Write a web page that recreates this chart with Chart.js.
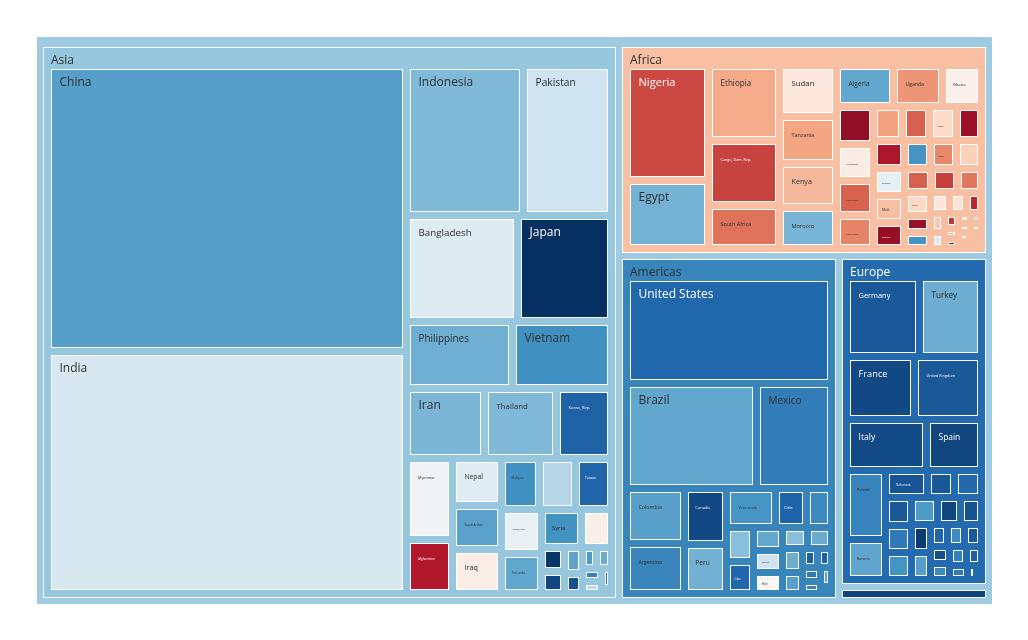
<!DOCTYPE html>
<html>
<head>
<meta charset="utf-8">
<title>Population treemap</title>
<script src="https://cdn.jsdelivr.net/npm/chart.js@4.4.1/dist/chart.umd.min.js"></script>
<style>
  html, body { margin: 0; padding: 0; background: #fff; }
  #wrap { width: 1028px; height: 640px; }
</style>
</head>
<body>
<div id="wrap"><canvas id="treemapChart"></canvas></div>
<script>
// Gapminder 2007 - population (millions) and life expectancy per country
const continents = ["Asia", "Africa", "Americas", "Europe", "Oceania"];

const asiaCountries = ["China", "India", "Indonesia", "Pakistan", "Bangladesh", "Japan", "Philippines", "Vietnam", "Iran", "Thailand", "Korea, Rep.", "Myanmar", "Afghanistan", "Nepal", "Saudi Arabia", "Iraq", "Malaysia", "Korea, Dem. Rep.", "Taiwan", "Yemen, Rep.", "Sri Lanka", "Syria", "Cambodia", "Hong Kong, China", "Israel", "Jordan", "Singapore", "West Bank and Gaza", "Lebanon", "Oman", "Mongolia", "Kuwait", "Bahrain"];
const asiaPop = [1318.68, 1110.40, 223.55, 169.27, 150.45, 127.47, 91.08, 85.26, 69.45, 65.07, 49.04, 47.76, 31.89, 28.90, 27.60, 27.50, 24.82, 23.30, 23.17, 22.21, 20.38, 19.31, 14.13, 6.98, 6.43, 6.05, 4.55, 4.02, 3.92, 3.20, 2.87, 2.51, 0.71];
const asiaLifeExp = [72.961, 64.698, 70.650, 65.483, 64.062, 82.603, 71.688, 74.249, 70.964, 70.616, 78.623, 62.069, 43.828, 63.785, 72.777, 59.545, 74.241, 67.297, 78.400, 62.698, 72.396, 74.143, 59.723, 82.208, 80.745, 72.535, 79.972, 73.422, 71.993, 75.640, 66.803, 77.588, 75.635];

const africaCountries = ["Nigeria", "Egypt", "Ethiopia", "Congo, Dem. Rep.", "South Africa", "Sudan", "Tanzania", "Kenya", "Morocco", "Algeria", "Uganda", "Ghana", "Mozambique", "Madagascar", "Cote d'Ivoire", "Cameroon", "Burkina Faso", "Malawi", "Niger", "Angola", "Zimbabwe", "Senegal", "Mali", "Zambia", "Tunisia", "Chad", "Guinea", "Somalia", "Rwanda", "Burundi", "Benin", "Sierra Leone", "Libya", "Togo", "Eritrea", "Central African Republic", "Congo, Rep.", "Mauritania", "Liberia", "Namibia", "Lesotho", "Gambia", "Botswana", "Guinea-Bissau", "Gabon", "Mauritius", "Swaziland", "Reunion", "Comoros", "Equatorial Guinea", "Djibouti", "Sao Tome and Principe"];
const africaPop = [135.03, 80.26, 76.51, 64.61, 44.00, 42.29, 38.14, 35.61, 33.76, 33.33, 29.17, 22.87, 19.95, 19.17, 18.01, 17.70, 14.33, 13.33, 12.89, 12.42, 12.31, 12.27, 12.03, 11.75, 10.28, 10.24, 9.95, 9.12, 8.86, 8.39, 8.08, 6.14, 6.04, 5.70, 4.91, 4.37, 3.80, 3.27, 3.19, 2.06, 2.01, 1.69, 1.64, 1.47, 1.45, 1.25, 1.13, 0.80, 0.71, 0.55, 0.50, 0.20];
const africaLifeExp = [46.859, 71.338, 52.947, 46.462, 49.339, 58.556, 52.517, 54.110, 71.164, 72.301, 51.542, 60.022, 42.082, 59.443, 48.328, 50.430, 52.295, 48.303, 56.867, 42.731, 43.487, 63.062, 54.467, 42.384, 73.923, 50.651, 56.007, 48.159, 46.242, 49.580, 56.728, 42.568, 73.952, 58.420, 58.040, 44.741, 55.322, 64.164, 45.678, 52.906, 42.592, 59.448, 50.728, 46.388, 56.735, 72.801, 39.613, 76.442, 65.152, 51.579, 54.791, 65.528];

const americasCountries = ["United States", "Brazil", "Mexico", "Colombia", "Argentina", "Canada", "Peru", "Venezuela", "Chile", "Ecuador", "Guatemala", "Cuba", "Dominican Republic", "Bolivia", "Haiti", "Honduras", "El Salvador", "Paraguay", "Nicaragua", "Costa Rica", "Puerto Rico", "Uruguay", "Panama", "Jamaica", "Trinidad and Tobago"];
const americasPop = [301.14, 190.01, 108.70, 44.23, 40.30, 33.39, 28.67, 26.08, 16.28, 13.76, 12.57, 11.42, 9.32, 9.12, 8.50, 7.48, 6.94, 6.67, 5.68, 4.13, 3.94, 3.45, 3.24, 2.78, 1.06];
const americasLifeExp = [78.242, 72.390, 76.195, 72.889, 75.320, 80.653, 71.421, 73.747, 78.553, 74.994, 70.259, 78.273, 72.235, 65.554, 60.916, 70.198, 71.878, 71.752, 72.899, 78.782, 78.746, 76.384, 75.537, 72.567, 69.819];

const europeCountries = ["Germany", "Turkey", "France", "United Kingdom", "Italy", "Spain", "Poland", "Romania", "Netherlands", "Greece", "Portugal", "Belgium", "Czech Republic", "Serbia", "Hungary", "Sweden", "Austria", "Switzerland", "Bulgaria", "Denmark", "Slovak Republic", "Finland", "Norway", "Bosnia and Herzegovina", "Croatia", "Ireland", "Albania", "Slovenia", "Montenegro", "Iceland"];
const europePop = [82.40, 71.16, 61.08, 60.78, 58.15, 40.45, 38.52, 22.28, 16.57, 10.71, 10.64, 10.39, 10.23, 10.15, 9.96, 9.03, 8.20, 7.55, 7.32, 5.47, 5.45, 5.24, 4.63, 4.55, 4.49, 4.11, 3.60, 2.01, 0.68, 0.30];
const europeLifeExp = [79.406, 71.777, 80.657, 79.425, 80.546, 80.941, 75.563, 72.476, 79.762, 79.483, 78.098, 79.441, 76.486, 74.002, 73.338, 80.884, 79.829, 81.701, 73.005, 78.332, 74.663, 79.313, 80.196, 74.852, 75.748, 78.885, 76.423, 77.926, 74.543, 81.757];

const oceaniaCountries = ["Australia", "New Zealand"];
const oceaniaPop = [20.43, 4.12];
const oceaniaLifeExp = [81.235, 80.204];

// RdBu colour scale (ColorBrewer), low life expectancy = red, high = blue
const rdBu = [[103,0,31],[178,24,43],[214,96,77],[244,165,130],[253,219,199],[247,247,247],[209,229,240],[146,197,222],[67,147,195],[33,102,172],[5,48,97]];

const groups = [
  { name: continents[0], countries: asiaCountries, pop: asiaPop, life: asiaLifeExp },
  { name: continents[1], countries: africaCountries, pop: africaPop, life: africaLifeExp },
  { name: continents[2], countries: americasCountries, pop: americasPop, life: americasLifeExp },
  { name: continents[3], countries: europeCountries, pop: europePop, life: europeLifeExp },
  { name: continents[4], countries: oceaniaCountries, pop: oceaniaPop, life: oceaniaLifeExp }
];

// layout space (same units as the chart axes)
const W = 956, H = 568;
const rootPad = { l: 7, r: 7, t: 11, b: 7, inner: 7 };
const groupPad = { l: 8, r: 8, t: 21.5, b: 8, inner: 8 };

const sum = arr => arr.reduce((a, b) => a + b, 0);

// squarified tiling (ratio 1), values sorted descending
function squarify(values, x0, y0, x1, y1) {
  const rects = [];
  let value = sum(values);
  let i0 = 0, i1 = 0;
  const n = values.length;
  while (i0 < n) {
    const dx = x1 - x0, dy = y1 - y0;
    let sumValue = values[i1++];
    let minValue = sumValue, maxValue = sumValue;
    const alpha = Math.max(dy / dx, dx / dy) / value;
    let beta = sumValue * sumValue * alpha;
    let minRatio = Math.max(maxValue / beta, beta / minValue);
    for (; i1 < n; ++i1) {
      const v = values[i1];
      sumValue += v;
      if (v < minValue) minValue = v;
      if (v > maxValue) maxValue = v;
      beta = sumValue * sumValue * alpha;
      const newRatio = Math.max(maxValue / beta, beta / minValue);
      if (newRatio > minRatio) { sumValue -= v; break; }
      minRatio = newRatio;
    }
    if (dx < dy) {
      const ny = y0 + dy * sumValue / value;
      let x = x0;
      const k = (x1 - x0) / sumValue;
      for (let i = i0; i < i1; i++) { rects[i] = [x, y0, x + values[i] * k, ny]; x += values[i] * k; }
      y0 = ny;
    } else {
      const nx = x0 + dx * sumValue / value;
      let y = y0;
      const k = (y1 - y0) / sumValue;
      for (let i = i0; i < i1; i++) { rects[i] = [x0, y, nx, y + values[i] * k]; y += values[i] * k; }
      x0 = nx;
    }
    value -= sumValue;
    i0 = i1;
  }
  return rects;
}

// tile children inside a parent rect with padding (d3 style)
function tileInside(rect, values, pad) {
  const p = pad.inner / 2;
  let x0 = rect[0] + pad.l - p, y0 = rect[1] + pad.t - p;
  let x1 = rect[2] - pad.r + p, y1 = rect[3] - pad.b + p;
  return squarify(values, x0, y0, x1, y1).map(r => {
    let a = r[0] + p, b = r[1] + p, c = r[2] - p, d = r[3] - p;
    if (c < a) a = c = (a + c) / 2;
    if (d < b) b = d = (b + d) / 2;
    return [a, b, c, d];
  });
}

// build nodes
const cells = [];
const rootRect = [0, 0, W, H];
const groupTotals = groups.map(g => sum(g.pop));
const groupLife = groups.map(g => sum(g.pop.map((p, i) => p * g.life[i])) / sum(g.pop));
const worldLife = sum(groups.map((g, i) => groupTotals[i] * groupLife[i])) / sum(groupTotals);

const allLife = [worldLife].concat(groupLife, ...groups.map(g => g.life));
const cmin = Math.min(...allLife), cmax = Math.max(...allLife);

function colorFor(v) {
  const t = (v - cmin) / (cmax - cmin);
  const pos = t * (rdBu.length - 1);
  const i = Math.min(Math.floor(pos), rdBu.length - 2);
  const f = pos - i;
  const c = rdBu[i].map((ch, k) => Math.round(ch + (rdBu[i + 1][k] - ch) * f));
  return { css: `rgb(${c[0]},${c[1]},${c[2]})`, t: t };
}

cells.push({ rect: rootRect, level: 0, label: "", color: colorFor(worldLife) });

const groupOrder = groups.map((g, i) => i).sort((a, b) => groupTotals[b] - groupTotals[a]);
const groupRects = tileInside(rootRect, groupOrder.map(i => groupTotals[i]), rootPad);
groupOrder.forEach((gi, k) => {
  const g = groups[gi];
  const gRect = groupRects[k];
  cells.push({ rect: gRect, level: 1, label: g.name, color: colorFor(groupLife[gi]) });
  const order = g.pop.map((p, i) => i).sort((a, b) => g.pop[b] - g.pop[a]);
  const leafRects = tileInside(gRect, order.map(i => g.pop[i]), groupPad);
  order.forEach((ci, j) => {
    cells.push({ rect: leafRects[j], level: 2, label: g.countries[ci], color: colorFor(g.life[ci]) });
  });
});

function textColor(t) {
  return (t < 0.2 || t > 0.87) ? '#ffffff' : '#2f2f2f';
}

// draws the cells through the chart scales
const treemapPlugin = {
  id: 'treemapCells',
  beforeDatasetsDraw(chart) {
    const ctx = chart.ctx;
    const xs = chart.scales.x, ys = chart.scales.y;
    ctx.save();
    cells.forEach(c => {
      const left = Math.round(xs.getPixelForValue(c.rect[0])) + 0.5;
      const right = Math.round(xs.getPixelForValue(c.rect[2])) + 0.5;
      const top = Math.round(ys.getPixelForValue(c.rect[1])) + 0.5;
      const bottom = Math.round(ys.getPixelForValue(c.rect[3])) + 0.5;
      const w = right - left, h = bottom - top;
      if (w < 1 || h < 1) return;
      ctx.fillStyle = c.color.css;
      ctx.fillRect(left, top, w, h);
      ctx.strokeStyle = '#ffffff';
      ctx.lineWidth = 1;
      ctx.strokeRect(left, top, w, h);

      if (!c.label) return;
      ctx.fillStyle = textColor(c.color.t);
      ctx.textBaseline = 'alphabetic';
      ctx.textAlign = 'left';
      if (c.level === 1) {
        if (h < 22) return;
        ctx.font = '12px "Open Sans", sans-serif';
        ctx.fillText(c.label, left + 7.5, top + 16.5);
      } else {
        ctx.font = '12px "Open Sans", sans-serif';
        const w12 = ctx.measureText(c.label).width;
        const room = 0.56 * w - 4.5;
        const size = Math.min(12, 12 * room / w12, 0.2 * h);
        if (size < 2) return;
        ctx.font = size.toFixed(2) + 'px "Open Sans", sans-serif';
        const dx = Math.min(8, w * 0.2);
        const dy = h > 26 ? 16.5 : h * 0.62;
        ctx.fillText(c.label, left + dx, top + dy);
      }
    });
    ctx.restore();
  }
};

const ctx = document.getElementById('treemapChart').getContext('2d');
new Chart(ctx, {
  type: 'scatter',
  data: {
    datasets: [{
      label: 'Population',
      data: cells.filter(c => c.level === 2).map(c => ({ x: (c.rect[0] + c.rect[2]) / 2, y: (c.rect[1] + c.rect[3]) / 2 })),
      pointRadius: 0,
      pointHoverRadius: 0
    }]
  },
  options: {
    responsive: true,
    maintainAspectRatio: false,
    animation: false,
    layout: { padding: { left: 36, right: 36, top: 36, bottom: 36 } },
    scales: {
      x: { type: 'linear', min: 0, max: W, display: false },
      y: { type: 'linear', min: 0, max: H, reverse: true, display: false }
    },
    plugins: {
      legend: { display: false },
      tooltip: { enabled: false }
    }
  },
  plugins: [treemapPlugin]
});
</script>
</body>
</html>
